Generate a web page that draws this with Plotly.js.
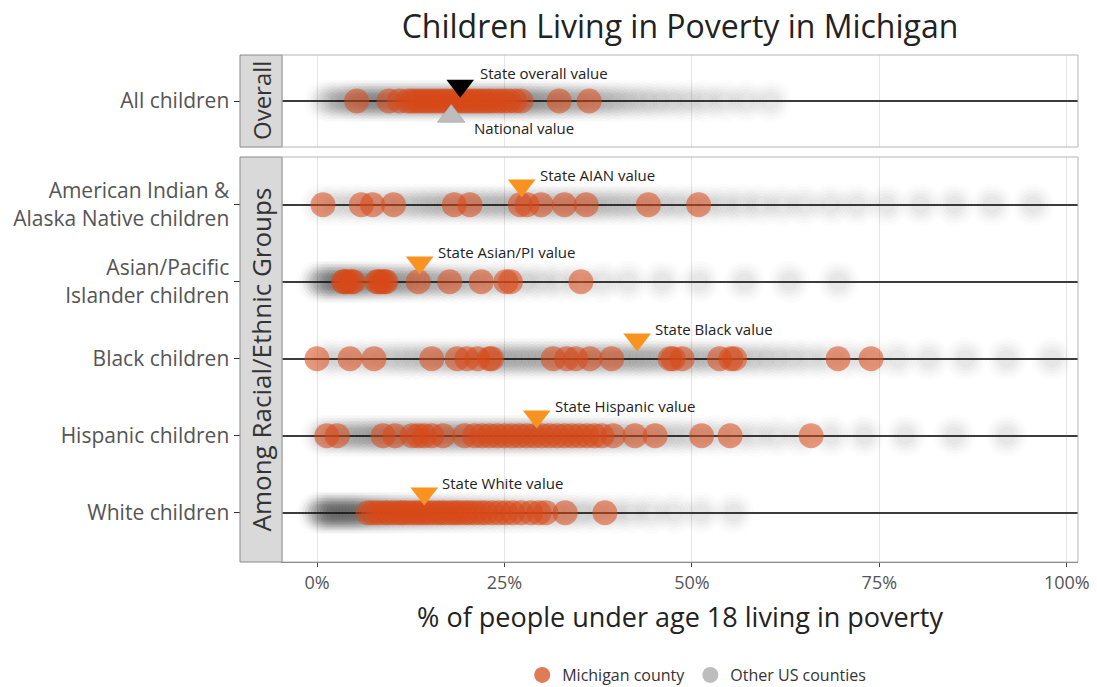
<!DOCTYPE html>
<html>
<head>
<meta charset="utf-8">
<script src="https://cdn.plot.ly/plotly-3.0.1.min.js"></script>
<style>html,body{margin:0;padding:0;background:#fff;}#chart{width:1097px;height:687px;}</style>
</head>
<body>
<div id="chart"></div>
<script>
// ---------- DATA ----------
const chartTitle = "Children Living in Poverty in Michigan";
const xTitle = "% of people under age 18 living in poverty";
const xTickVals = [0, 25, 50, 75, 100];
const xTickText = ["0%", "25%", "50%", "75%", "100%"];

const overallLabel = "All children";
const groupLabels = ["White children", "Hispanic children", "Black children",
  "Asian/Pacific<br>Islander children", "American Indian &<br>Alaska Native children"];
const stripLabels = ["Overall", "Among Racial/Ethnic Groups"];

// Michigan counties (% under 18 in poverty)
const miOverall = [5.3, 9.6, 11.0, 12.1, 12.7, 13.3, 13.9, 14.5, 15.1, 15.7, 16.3, 16.9, 17.5, 18.1, 18.7,
  19.3, 19.9, 20.5, 21.1, 21.7, 22.3, 22.9, 23.5, 24.2, 24.9, 25.6, 26.4, 27.2, 32.3, 36.3];
const miWhite = [6.8, 7.5, 8.2, 9.0, 9.6, 10.3, 11.0, 11.5, 12.1, 12.8, 13.4, 14.0, 14.6, 15.2, 15.9, 16.5,
  17.1, 17.8, 18.4, 19.0, 19.7, 20.3, 21.0, 21.8, 22.5, 23.4, 24.3, 25.2, 26.1, 27.2, 28.5, 29.6, 30.5, 33.1, 38.4];
const miHispanic = [1.3, 2.7, 8.8, 10.4, 12.7, 13.5, 14.3, 15.3, 16.8, 19.7, 21.0, 22.0, 23.0, 24.0, 25.0,
  26.0, 27.0, 28.0, 29.0, 30.0, 31.0, 32.0, 33.0, 34.0, 35.0, 36.0, 37.0, 38.0, 39.5, 42.4, 45.1, 51.3, 55.1, 65.9];
const miBlack = [0.0, 4.4, 7.6, 15.3, 18.7, 20.0, 21.4, 23.0, 23.3, 31.5, 33.3, 34.5, 36.4, 39.3, 47.1, 47.5,
  48.7, 53.7, 55.2, 55.7, 69.5, 73.9];
const miAsian = [3.5, 3.7, 4.0, 4.6, 4.8, 8.0, 8.2, 8.6, 9.0, 9.2, 13.5, 17.7, 21.9, 25.2, 25.8, 35.2];
const miAIAN = [0.8, 5.9, 7.4, 10.2, 18.3, 20.4, 27.1, 28.0, 29.9, 33.0, 35.9, 44.2, 50.9];

// Other US counties (estimated spread of the grey cloud)
const usOverall = [1.0, 2.0, 3.0, 3.8, 4.5, 5.2, 5.8, 6.4, 7.0, 7.6, 8.2, 8.8, 9.4, 10.0, 10.6, 11.2, 11.8,
  12.4, 13.0, 13.6, 14.2, 14.8, 15.4, 16.0, 16.6, 17.2, 17.8, 18.4, 19.0, 19.6, 20.2, 20.8, 21.4, 22.0, 22.6,
  23.2, 23.8, 24.4, 25.0, 25.6, 26.2, 26.8, 27.4, 28.0, 28.7, 29.4, 30.1, 30.8, 31.6, 32.4, 33.2, 34.0, 34.9,
  35.8, 36.8, 37.8, 38.9, 40.0, 41.3, 42.7, 44.2, 45.8, 47.6, 49.6, 51.8, 54.3, 57.2, 60.5];
const usWhite = [0.0, 0.4, 0.8, 1.2, 1.6, 2.0, 2.4, 2.8, 3.2, 3.6, 4.0, 4.4, 4.8, 5.2, 5.6, 6.0, 6.5, 7.0,
  7.5, 8.0, 8.5, 9.0, 9.6, 10.2, 10.8, 11.4, 12.0, 12.7, 13.4, 14.1, 14.8, 15.5, 16.3, 17.1, 17.9, 18.7, 19.6,
  20.5, 21.4, 22.4, 23.4, 24.5, 25.6, 26.8, 28.0, 29.3, 30.7, 32.2, 33.8, 35.5, 37.4, 39.5, 41.8, 44.5, 47.6,
  51.2, 55.5];
const usHispanic = [0.5, 1.5, 2.5, 3.4, 4.3, 5.1, 5.9, 6.7, 7.5, 8.2, 8.9, 9.6, 10.3, 11.0, 11.7, 12.4, 13.1,
  13.8, 14.5, 15.2, 15.9, 16.6, 17.3, 18.0, 18.7, 19.4, 20.1, 20.8, 21.5, 22.2, 22.9, 23.6, 24.3, 25.0, 25.7,
  26.4, 27.1, 27.8, 28.5, 29.2, 29.9, 30.7, 31.5, 32.3, 33.1, 33.9, 34.8, 35.7, 36.6, 37.6, 38.6, 39.7, 40.8,
  42.0, 43.3, 44.7, 46.2, 47.8, 49.5, 51.4, 53.5, 55.8, 58.4, 61.3, 64.6, 68.5, 73.0, 78.5, 85.0, 92.0];
const usBlack = [1.0, 3.0, 5.0, 6.8, 8.5, 10.0, 11.4, 12.7, 14.0, 15.2, 16.4, 17.5, 18.6, 19.7, 20.7, 21.7,
  22.7, 23.7, 24.6, 25.5, 26.4, 27.3, 28.2, 29.1, 30.0, 30.9, 31.8, 32.7, 33.6, 34.5, 35.4, 36.3, 37.2, 38.1,
  39.0, 39.9, 40.8, 41.7, 42.6, 43.5, 44.4, 45.4, 46.4, 47.4, 48.4, 49.5, 50.6, 51.7, 52.9, 54.1, 55.4, 56.8,
  58.3, 59.9, 61.6, 63.5, 65.6, 68.0, 70.7, 73.8, 77.4, 81.6, 86.5, 92.0, 98.0];
const usAsian = [0.0, 0.5, 1.0, 1.5, 2.0, 2.5, 3.0, 3.5, 4.0, 4.5, 5.0, 5.5, 6.0, 6.6, 7.2, 7.8, 8.4, 9.0,
  9.7, 10.4, 11.1, 11.8, 12.6, 13.4, 14.2, 15.1, 16.0, 17.0, 18.0, 19.1, 20.3, 21.6, 23.0, 24.5, 26.2, 28.0,
  30.0, 32.3, 35.0, 38.0, 41.5, 46.0, 51.0, 57.0, 63.0, 69.5];
const usAIAN = [0.5, 2.5, 4.5, 6.3, 8.0, 9.6, 11.1, 12.5, 13.8, 15.0, 16.1, 17.2, 18.3, 19.4, 20.5, 21.6, 22.7,
  23.8, 24.9, 26.0, 27.1, 28.2, 29.3, 30.4, 31.5, 32.6, 33.7, 34.8, 35.9, 37.0, 38.2, 39.4, 40.7, 42.0, 43.4,
  44.9, 46.5, 48.2, 50.0, 52.0, 54.2, 56.6, 59.2, 62.0, 65.0, 68.5, 72.0, 76.0, 80.5, 85.0, 90.0, 95.5];

// State / national reference values
const stateOverall = 19.1;
const nationalOverall = 17.9;
const stateGroupValues = [14.3, 29.3, 42.7, 13.7, 27.3];
const stateGroupLabels = ["State White value", "State Hispanic value", "State Black value",
  "State Asian/PI value", "State AIAN value"];
const legendLabels = ["Michigan county", "Other US counties"];

// ---------- STYLE ----------
const FONT = "'Open Sans', sans-serif";
const MI_COLOR = "rgb(216,72,24)";
const US_COLOR = "rgb(50,50,50)";
const TRI_COLOR = "#f7931e";
const miGroups = [miWhite, miHispanic, miBlack, miAsian, miAIAN];
const usGroups = [usWhite, usHispanic, usBlack, usAsian, usAIAN];
const rows = [1, 2, 3, 4, 5];
const triOffset = 0.25, triOffset1 = 0.2;
// soft "blur" layers for the grey cloud
const blurLayers = [{size: 42, op: 0.017}, {size: 36, op: 0.02}, {size: 30, op: 0.023},
  {size: 24, op: 0.026}, {size: 18, op: 0.028}];

const traces = [];
function same(arr, v) { return arr.map(() => v); }

// grey clouds
blurLayers.forEach(b => {
  traces.push({type: "scatter", mode: "markers", x: usOverall, y: same(usOverall, 0), xaxis: "x2", yaxis: "y2",
    marker: {size: b.size, color: US_COLOR, opacity: b.op}, showlegend: false, hoverinfo: "skip"});
  usGroups.forEach((arr, i) => traces.push({type: "scatter", mode: "markers", x: arr, y: same(arr, rows[i]),
    xaxis: "x", yaxis: "y", marker: {size: b.size, color: US_COLOR, opacity: b.op}, showlegend: false, hoverinfo: "skip"}));
});

// Michigan counties
traces.push({type: "scatter", mode: "markers", x: miOverall, y: same(miOverall, 0), xaxis: "x2", yaxis: "y2",
  marker: {size: 25, color: MI_COLOR, opacity: 0.55}, showlegend: false});
miGroups.forEach((arr, i) => traces.push({type: "scatter", mode: "markers", x: arr, y: same(arr, rows[i]),
  xaxis: "x", yaxis: "y", marker: {size: 25, color: MI_COLOR, opacity: 0.55}, showlegend: false}));

// triangles
traces.push({type: "scatter", mode: "markers", x: [stateOverall], y: [triOffset1], xaxis: "x2", yaxis: "y2",
  marker: {symbol: "triangle-down", size: 24, color: "#000"}, showlegend: false});
traces.push({type: "scatter", mode: "markers", x: [nationalOverall], y: [-triOffset1], xaxis: "x2", yaxis: "y2",
  marker: {symbol: "triangle-up", size: 24, color: "#bdbdbd", line: {color: "#999", width: 0.5}}, showlegend: false});
traces.push({type: "scatter", mode: "markers", x: stateGroupValues, y: rows.map(r => r + triOffset),
  xaxis: "x", yaxis: "y", marker: {symbol: "triangle-down", size: 24, color: TRI_COLOR}, showlegend: false});

// legend entries
traces.push({type: "scatter", mode: "markers", x: [null], y: [null], name: legendLabels[0],
  marker: {size: 16, color: "#e07b58"}, xaxis: "x", yaxis: "y"});
traces.push({type: "scatter", mode: "markers", x: [null], y: [null], name: legendLabels[1],
  marker: {size: 16, color: "#bdbdbd"}, xaxis: "x", yaxis: "y"});

// annotations
const annFont = {family: FONT, size: 15, color: "#222"};
const annotations = [];
annotations.push({xref: "x2", yref: "y2", x: stateOverall, y: triOffset1, text: "State overall value",
  showarrow: false, xanchor: "left", yanchor: "middle", xshift: 18, yshift: 13, font: annFont});
annotations.push({xref: "x2", yref: "y2", x: nationalOverall, y: -triOffset1, text: "National value",
  showarrow: false, xanchor: "left", yanchor: "middle", xshift: 21, yshift: -12, font: annFont});
stateGroupValues.forEach((v, i) => annotations.push({xref: "x", yref: "y", x: v, y: rows[i] + triOffset,
  text: stateGroupLabels[i], showarrow: false, xanchor: "left", yanchor: "middle", xshift: 16, yshift: 10, font: annFont}));

const plotW = 1097 - 282 - 19;
const stripX0 = -42 / plotW;
const dom1 = [0.8185, 1], dom2 = [0, 0.7988];
annotations.push({xref: "paper", yref: "paper", x: stripX0 / 2, y: (dom1[0] + dom1[1]) / 2, text: stripLabels[0],
  textangle: -90, showarrow: false, xanchor: "center", yanchor: "middle", font: {family: FONT, size: 24, color: "#333"}});
annotations.push({xref: "paper", yref: "paper", x: stripX0 / 2, y: (dom2[0] + dom2[1]) / 2, text: stripLabels[1],
  textangle: -90, showarrow: false, xanchor: "center", yanchor: "middle", font: {family: FONT, size: 26, color: "#333"}});

const shapes = [
  {type: "rect", xref: "paper", yref: "paper", x0: stripX0, x1: 0, y0: dom1[0], y1: dom1[1],
    fillcolor: "#d9d9d9", line: {color: "#8a8a8a", width: 1}, layer: "above"},
  {type: "rect", xref: "paper", yref: "paper", x0: stripX0, x1: 0, y0: dom2[0], y1: dom2[1],
    fillcolor: "#d9d9d9", line: {color: "#8a8a8a", width: 1}, layer: "above"},
  {type: "rect", xref: "paper", yref: "paper", x0: 0, x1: 1, y0: dom1[0], y1: dom1[1],
    fillcolor: "rgba(0,0,0,0)", line: {color: "#b5b5b5", width: 1}, layer: "above"},
  {type: "rect", xref: "paper", yref: "paper", x0: 0, x1: 1, y0: dom2[0], y1: dom2[1],
    fillcolor: "rgba(0,0,0,0)", line: {color: "#b5b5b5", width: 1}, layer: "above"}
];

const tickFont = {family: FONT, size: 21, color: "#555"};
const layout = {
  width: 1097, height: 687,
  margin: {l: 282, r: 19, t: 55, b: 125, autoexpand: false},
  paper_bgcolor: "#fff", plot_bgcolor: "#fff",
  font: {family: FONT, color: "#222"},
  title: {text: chartTitle, font: {family: FONT, size: 32, color: "#222"}, x: 0.5, xref: "paper",
    y: 1 - 27 / 687, yref: "container", yanchor: "middle"},
  xaxis: {domain: [0, 1], anchor: "y", range: [-4.67, 101.5], tickvals: xTickVals, ticktext: xTickText,
    tickfont: {family: FONT, size: 18, color: "#555"}, ticks: "outside", ticklen: 4, tickcolor: "#444",
    showgrid: true, gridcolor: "#e6e6e6", gridwidth: 1, zeroline: false, showline: true, linecolor: "#666",
    title: {text: xTitle, font: {family: FONT, size: 27, color: "#222"}, standoff: 15}, automargin: false},
  xaxis2: {domain: [0, 1], anchor: "y2", matches: "x", range: [-4.67, 101.5], tickvals: xTickVals,
    showticklabels: false, ticks: "", showgrid: true, gridcolor: "#e6e6e6", zeroline: false, showline: false},
  yaxis: {domain: dom2, anchor: "x", range: [0.36, 5.62], tickvals: rows, ticktext: groupLabels,
    tickfont: tickFont, ticks: "outside", ticklen: 47, tickcolor: "#333", tickwidth: 1,
    showgrid: true, gridcolor: "#3c3c3c", gridwidth: 1.6, zeroline: false, showline: true, linecolor: "#111",
    linewidth: 1.5, automargin: false},
  yaxis2: {domain: dom1, anchor: "x2", range: [-0.6, 0.6], tickvals: [0], ticktext: [overallLabel],
    tickfont: tickFont, ticks: "outside", ticklen: 47, tickcolor: "#333", tickwidth: 1,
    showgrid: true, gridcolor: "#3c3c3c", gridwidth: 1.6, zeroline: false, showline: true, linecolor: "#111",
    linewidth: 1.5, automargin: false},
  showlegend: true,
  legend: {orientation: "h", x: 0.521, xanchor: "center", y: -113 / 507, yanchor: "middle",
    font: {family: FONT, size: 16, color: "#333"}, itemsizing: "trace"},
  annotations: annotations,
  shapes: shapes
};

Plotly.newPlot("chart", traces, layout, {displayModeBar: false, staticPlot: true});
</script>
</body>
</html>
